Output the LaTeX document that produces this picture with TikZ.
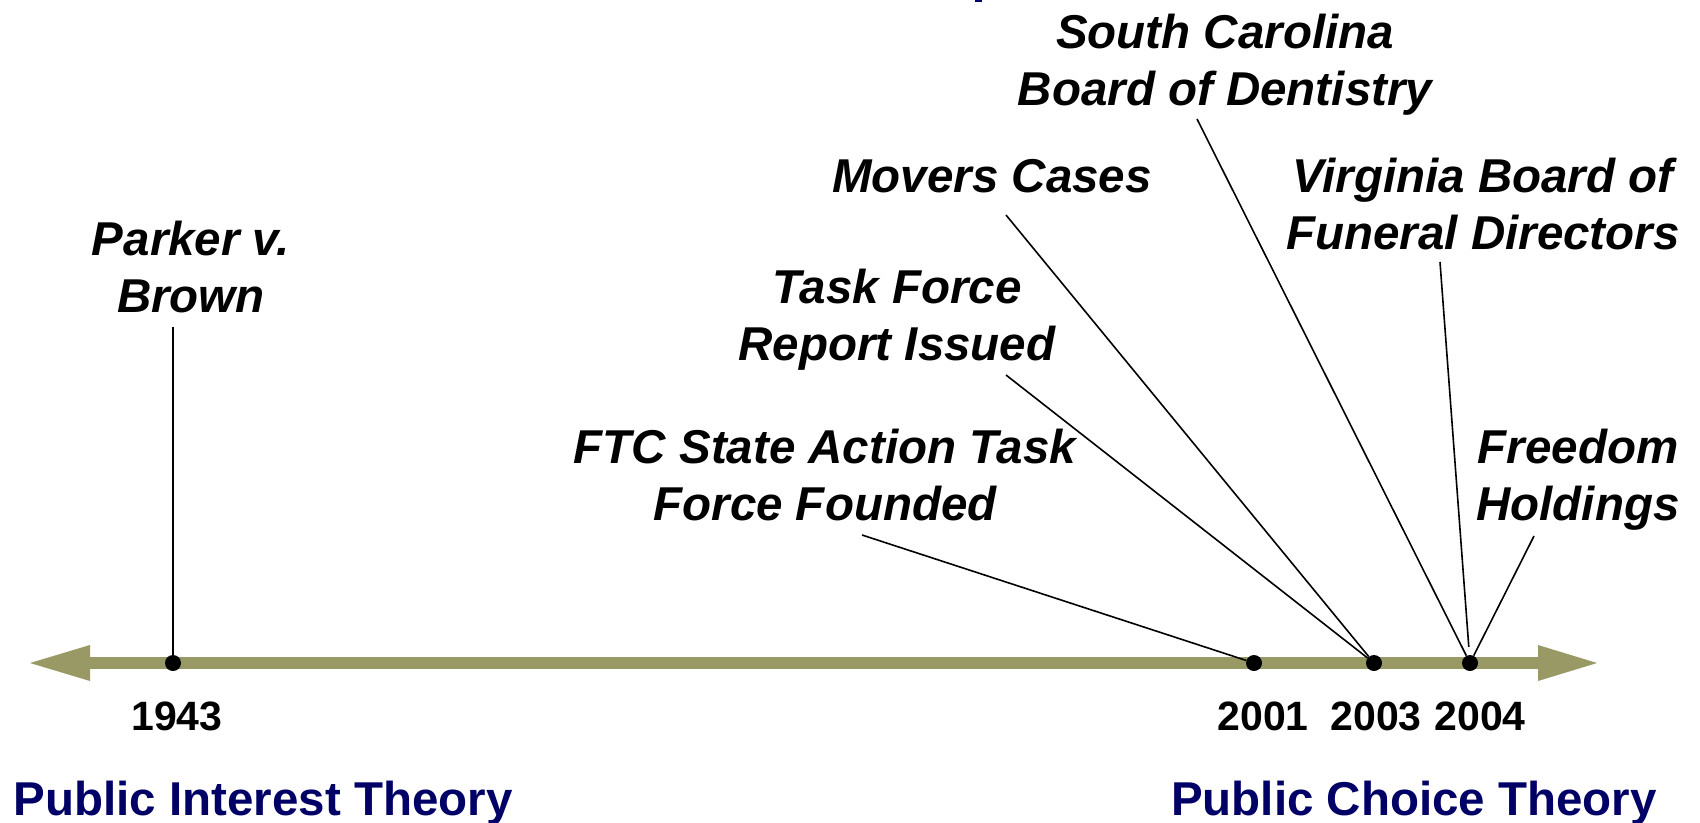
\documentclass[tikz,border=0pt]{standalone}
\usepackage{fontspec}
\setmainfont{Liberation Sans}
\begin{document}
\begin{tikzpicture}[x=1pt,y=-1pt,
  event/.style={inner sep=0pt,anchor=base,align=center,
    font=\fontsize{47.5}{57}\selectfont\bfseries\itshape},
  year/.style={inner sep=0pt,anchor=base,font=\fontsize{41}{49}\selectfont\bfseries},
  theory/.style={inner sep=0pt,anchor=base,text=navy,font=\fontsize{47.5}{57}\selectfont\bfseries},
  dot/.style={circle,fill=black,inner sep=0pt,minimum size=16pt},
  leader/.style={draw=black,line width=1.6pt}]
\definecolor{olive}{RGB}{153,153,102}
\definecolor{navy}{RGB}{0,0,102}
\useasboundingbox (0,0) rectangle (1700,822);
\fill[white] (0,0) rectangle (1700,822);

% stray fragment of a heading above the frame
\fill[navy] (975,0) rectangle (982,2);

% time axis with arrowheads at both ends
\fill[olive] (90,657) rectangle (1538,669);
\fill[olive] (30,663) -- (90,645) -- (90,681) -- cycle;
\fill[olive] (1597,663) -- (1538,645) -- (1538,681) -- cycle;

% year markers
\node[dot] (d1943) at (173,663) {};
\node[dot] (d2001) at (1254,663) {};
\node[dot] (d2003) at (1374,663) {};
\node[dot] (d2004) at (1470,663) {};

\node[year] (y1943) at (177,730) {1943};
\node[year] (y2001) at (1263,730) {2001};
\node[year] (y2003) at (1376,730) {2003};
\node[year] (y2004) at (1480,730) {2004};

% events (placed by the baseline of their last line)
\node[event] (parker)   at (191,312)  {Parker v.\\Brown};
\node[event] (ftc)      at (825,520)  {FTC State Action Task\\Force Founded};
\node[event] (report)   at (897,360)  {Task Force\\Report Issued};
\node[event] (movers)   at (992,192)  {Movers Cases};
\node[event] (carolina) at (1225,105) {South Carolina\\Board of Dentistry};
\node[event] (virginia) at (1483,249) {Virginia Board of\\Funeral Directors};
\node[event] (freedom)  at (1578,520) {Freedom\\Holdings};

% leader line ends below each event
\coordinate (parkerEnd)   at (173,327);
\coordinate (ftcEnd)      at (862,535);
\coordinate (reportEnd)   at (1006,375);
\coordinate (moversEnd)   at (1006,215);
\coordinate (carolinaEnd) at (1197,119);
\coordinate (virginiaEnd) at (1440,262);
\coordinate (freedomEnd)  at (1534,536);

\draw[leader] (parkerEnd) -- (d1943);
\draw[leader] (ftcEnd) -- (d2001);
\draw[leader] (reportEnd) -- (d2003);
\draw[leader] (moversEnd) -- (d2003);
\draw[leader] (carolinaEnd) -- (d2004);
\draw[leader,shorten >=8pt] (virginiaEnd) -- (d2004);
\draw[leader] (freedomEnd) -- (d2004);

% the two theories
\node[theory] (interest) at (263,815)  {Public Interest Theory};
\node[theory] (choice)   at (1414,815) {Public Choice Theory};
\end{tikzpicture}
\end{document}
